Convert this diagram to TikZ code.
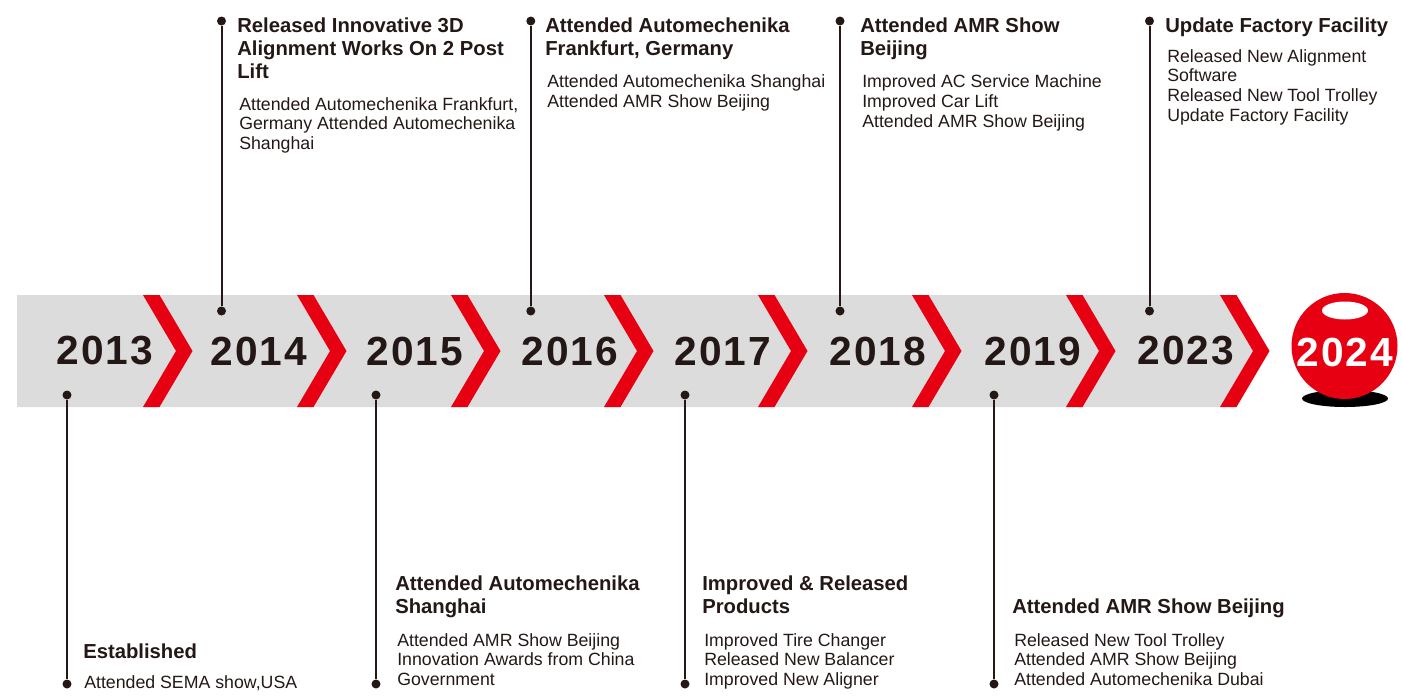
\documentclass[tikz,border=0pt]{standalone}
\usepackage{fontspec}
\setmainfont{Liberation Sans}
\newfontfamily\yearfont{Liberation Sans}[LetterSpace=5]
\usetikzlibrary{positioning}

\definecolor{ink}{HTML}{231815}
\definecolor{chevred}{HTML}{E60012}
\definecolor{bandgray}{HTML}{DCDCDC}

\tikzset{
  yr/.style={inner sep=0, text=ink, font=\yearfont\bfseries\fontsize{30.5}{30.5}\selectfont},
  ttl/.style={anchor=north west, inner sep=0, align=left, text=ink, font=\bfseries\fontsize{15.2}{17.25}\selectfont},
  txt/.style={anchor=north west, inner sep=0, align=left, text=ink, font=\fontsize{13.3}{14.8}\selectfont},
  dot/.style={circle, fill=ink, inner sep=0, minimum size=6.75pt},
  stem/.style={draw=ink, line width=1.5pt},
  chev/.style={fill=chevred}
}

\begin{document}
\begin{tikzpicture}[x=0.75pt,y=-0.75pt]
\useasboundingbox (0,0) rectangle (1402,697);

% band and chevrons
\fill[bandgray] (17,295) -- (1220,295) -- (1253,351) -- (1220,407) -- (17,407) -- cycle;
\fill[chev] (143,295) -- ++(16.5,0) -- ++(33,56) -- ++(-33,56) -- ++(-16.5,0) -- ++(33,-56) -- cycle;
\fill[chev] (297,295) -- ++(16.5,0) -- ++(33,56) -- ++(-33,56) -- ++(-16.5,0) -- ++(33,-56) -- cycle;
\fill[chev] (451,295) -- ++(16.5,0) -- ++(33,56) -- ++(-33,56) -- ++(-16.5,0) -- ++(33,-56) -- cycle;
\fill[chev] (604,295) -- ++(16.5,0) -- ++(33,56) -- ++(-33,56) -- ++(-16.5,0) -- ++(33,-56) -- cycle;
\fill[chev] (758,295) -- ++(16.5,0) -- ++(33,56) -- ++(-33,56) -- ++(-16.5,0) -- ++(33,-56) -- cycle;
\fill[chev] (912,295) -- ++(16.5,0) -- ++(33,56) -- ++(-33,56) -- ++(-16.5,0) -- ++(33,-56) -- cycle;
\fill[chev] (1066,295) -- ++(16.5,0) -- ++(33,56) -- ++(-33,56) -- ++(-16.5,0) -- ++(33,-56) -- cycle;
\fill[chev] (1220,295) -- ++(16.5,0) -- ++(33,56) -- ++(-33,56) -- ++(-16.5,0) -- ++(33,-56) -- cycle;

% years
\node[yr] (y13) at (105,351) {2013};
\node[yr] (y14) at (259,351) {2014};
\node[yr] (y15) at (415,351) {2015};
\node[yr] (y16) at (570,351) {2016};
\node[yr] (y17) at (723,351) {2017};
\node[yr] (y18) at (878,351) {2018};
\node[yr] (y19) at (1033,351) {2019};
\node[yr] (y23) at (1186,351) {2023};

% 2024 ball
\fill[black] (1345,398.5) ellipse (43 and 8.5);
\node[circle, fill=chevred, inner sep=0, minimum size=79.5pt] (ball) at (1344.5,346) {};
\fill[white] (1345,310.5) ellipse (23 and 9);
\node[yr, text=white] (y24) at (1345,352) {2024};

% stems above
\node[dot] (d14a) at (221.5,311) {};
\node[dot] (d14b) at (221.5,21) {};
\node[dot] (d16a) at (530.8,311) {};
\node[dot] (d16b) at (530.8,21) {};
\node[dot] (d18a) at (840,311) {};
\node[dot] (d18b) at (840,21) {};
\node[dot] (d23a) at (1149.5,311) {};
\node[dot] (d23b) at (1149.5,21) {};
\draw[stem] (d14a) -- (d14b);
\draw[stem] (d16a) -- (d16b);
\draw[stem] (d18a) -- (d18b);
\draw[stem] (d23a) -- (d23b);

% stems below
\node[dot] (d13a) at (67,395) {};
\node[dot] (d13b) at (67,684) {};
\node[dot] (d15a) at (376,395) {};
\node[dot] (d15b) at (376,684) {};
\node[dot] (d17a) at (685,395) {};
\node[dot] (d17b) at (685,684) {};
\node[dot] (d19a) at (994,395) {};
\node[dot] (d19b) at (994,684) {};
\draw[stem] (d13a) -- (d13b);
\draw[stem] (d15a) -- (d15b);
\draw[stem] (d17a) -- (d17b);
\draw[stem] (d19a) -- (d19b);

% texts above
\node[ttl] (t14) at (237,18) {Released Innovative 3D\\Alignment Works On 2 Post\\Lift};
\node[txt] (b14) at (239,97) {Attended Automechenika Frankfurt,\\Germany Attended Automechenika\\Shanghai};
\node[ttl] (t16) at (545,18) {Attended Automechenika\\Frankfurt, Germany};
\node[txt] (b16) at (547,74.5) {Attended Automechenika Shanghai\\Attended AMR Show Beijing};
\node[ttl] (t18) at (860,18) {Attended AMR Show\\Beijing};
\node[txt] (b18) at (862,74.5) {Improved AC Service Machine\\Improved Car Lift\\Attended AMR Show Beijing};
\node[ttl] (t23) at (1165,18) {Update Factory Facility};
\node[txt] (b23) at (1167,49) {Released New Alignment\\Software\\Released New Tool Trolley\\Update Factory Facility};

% texts below
\node[ttl] (t13) at (83,644) {Established};
\node[txt] (b13) at (84,675) {Attended SEMA show,USA};
\node[ttl] (t15) at (395,576) {Attended Automechenika\\Shanghai};
\node[txt] (b15) at (397,633) {Attended AMR Show Beijing\\Innovation Awards from China\\Government};
\node[ttl] (t17) at (702,576) {Improved \& Released\\Products};
\node[txt] (b17) at (704,633) {Improved Tire Changer\\Released New Balancer\\Improved New Aligner};
\node[ttl] (t19) at (1012,599) {Attended AMR Show Beijing};
\node[txt] (b19) at (1014,633) {Released New Tool Trolley\\Attended AMR Show Beijing\\Attended Automechenika Dubai};

\end{tikzpicture}
\end{document}
